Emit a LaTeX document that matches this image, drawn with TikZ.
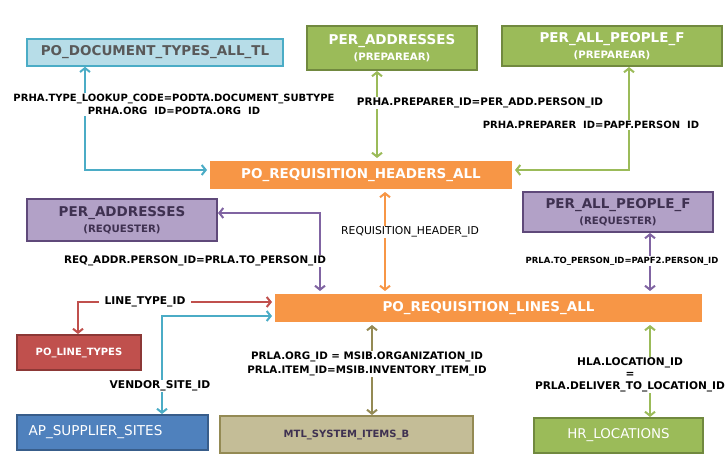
\documentclass[tikz,border=0pt]{standalone}
\usepackage{fontspec}
\setmainfont{DejaVu Sans}
\usetikzlibrary{arrows.meta,shadows}
\definecolor{orng}{HTML}{F79646}
\definecolor{ltblue}{HTML}{B7DDE8}
\definecolor{aqua}{HTML}{4BACC6}
\definecolor{grn}{HTML}{9BBB59}
\definecolor{grnd}{HTML}{71893F}
\definecolor{purp}{HTML}{B2A1C7}
\definecolor{purpd}{HTML}{5F497A}
\definecolor{purpl}{HTML}{8064A2}
\definecolor{purpt}{HTML}{3F3151}
\definecolor{red1}{HTML}{C0504D}
\definecolor{red1d}{HTML}{8C3836}
\definecolor{blu}{HTML}{4F81BD}
\definecolor{blud}{HTML}{385D8A}
\definecolor{tan1}{HTML}{C4BD97}
\definecolor{tand}{HTML}{948A54}
\begin{document}
\begin{tikzpicture}[x=1pt,y=-1pt,
  box/.style={rectangle, inner sep=0pt, align=center, line width=2pt},
  tfont/.style={font=\fontsize{13.5}{15.5}\selectfont\bfseries},
  orangebox/.style={box, fill=orng, draw=white, line width=3pt, text=white, tfont,
     drop shadow={shadow xshift=1.5pt, shadow yshift=-1.5pt, opacity=0.3}},
  greenbox/.style={box, fill=grn, draw=grnd, text=white, tfont},
  purplebox/.style={box, fill=purp, draw=purpd, text=purpt, tfont},
  lbl/.style={fill=white, inner sep=1pt, align=center, font=\fontsize{10.4}{13}\selectfont\bfseries},
  conn/.style={line width=2pt, {Straight Barb[length=4pt,width=10pt]}-{Straight Barb[length=4pt,width=10pt]}}
]
\useasboundingbox (0,0) rectangle (727,466);

% boxes
\node[box, fill=ltblue, draw=aqua, line width=1.5pt, text=black!65, tfont,
      minimum width=256pt, minimum height=27pt] (doc) at (155,52.5) {PO\_DOCUMENT\_TYPES\_ALL\_TL};
\node[greenbox, minimum width=170pt, minimum height=44pt] (paddr) at (392,48)
  {PER\_ADDRESSES\\{\fontsize{10.2}{11}\selectfont (PREPAREAR)}};
\node[greenbox, minimum width=220pt, minimum height=40pt] (ppeople) at (612,46)
  {PER\_ALL\_PEOPLE\_F\\{\fontsize{10.2}{11}\selectfont (PREPAREAR)}};
\node[orangebox, minimum width=305pt, minimum height=31pt] (hdr) at (361,175)
  {PO\_REQUISITION\_HEADERS\_ALL};
\node[purplebox, minimum width=190pt, minimum height=42pt] (raddr) at (122,220)
  {PER\_ADDRESSES\\{\fontsize{10.2}{11}\selectfont (REQUESTER)}};
\node[purplebox, minimum width=190pt, minimum height=40pt] (rpeople) at (618,212)
  {PER\_ALL\_PEOPLE\_F\\{\fontsize{10.2}{11}\selectfont (REQUESTER)}};
\node[orangebox, minimum width=430pt, minimum height=31pt] (lines) at (488.5,308)
  {PO\_REQUISITION\_LINES\_ALL};
\node[box, fill=red1, draw=red1d, text=white, font=\fontsize{10}{12}\selectfont\bfseries,
      minimum width=124pt, minimum height=35pt] (ltypes) at (79,352.5) {PO\_LINE\_TYPES};
\node[box, fill=blu, draw=blud, text=white, font=\fontsize{13.6}{15}\selectfont,
      minimum width=191pt, minimum height=35pt] (supp) at (112.5,432.5)
  {\makebox[168pt][l]{AP\_SUPPLIER\_SITES}};
\node[box, fill=tan1, draw=tand, text=purpt, font=\fontsize{10}{12}\selectfont\bfseries,
      minimum width=253pt, minimum height=37pt] (mtl) at (346.5,434.5) {MTL\_SYSTEM\_ITEMS\_B};
\node[box, fill=grn, draw=grnd, text=white, font=\fontsize{13.4}{15}\selectfont,
      minimum width=169pt, minimum height=35pt] (hrloc) at (618.5,435.5) {HR\_LOCATIONS};

% bend coordinates
\coordinate (b1) at (85,170);
\coordinate (g1) at (377,0);
\coordinate (g2) at (629,170);
\coordinate (p1) at (320,213);
\coordinate (o1) at (385,0);
\coordinate (p2) at (650,0);
\coordinate (r1) at (78,302);
\coordinate (v1) at (162,316);
\coordinate (t1) at (372,0);
\coordinate (h1) at (650,0);

% connectors
\draw[conn, aqua] (doc.south -| b1) -- (b1) -- (b1 -| hdr.west);
\draw[conn, grn] (paddr.south -| g1) -- (hdr.north -| g1);
\draw[conn, grn] (ppeople.south -| g2) -- (g2) -- (g2 -| hdr.east);
\draw[conn, purpl] (p1 -| raddr.east) -- (p1) -- (p1 |- lines.north);
\draw[conn, orng] (hdr.south -| o1) -- (lines.north -| o1);
\draw[conn, purpl] (rpeople.south -| p2) -- (lines.north -| p2);
\draw[conn, red1] (r1 -| lines.west) -- (r1) -- (r1 |- ltypes.north);
\draw[conn, aqua] (v1 -| lines.west) -- (v1) -- (v1 |- supp.north);
\draw[conn, tand] (lines.south -| t1) -- (mtl.north -| t1);
\draw[conn, grn] (lines.south -| h1) -- (hrloc.north -| h1);

% labels
\node[lbl, font=\fontsize{10}{13}\selectfont\bfseries] (l1) at (174,104.5) {PRHA.TYPE\_LOOKUP\_CODE=PODTA.DOCUMENT\_SUBTYPE\\PRHA.ORG~~ID=PODTA.ORG~~ID};
\node[lbl] (l2) at (480,103) {PRHA.PREPARER\_ID=PER\_ADD.PERSON\_ID};
\node[lbl, font=\fontsize{10}{13}\selectfont\bfseries] (l3) at (591,125) {PRHA.PREPARER~~ID=PAPF.PERSON~~ID};
\node[lbl] (l4) at (195,261) {REQ\_ADDR.PERSON\_ID=PRLA.TO\_PERSON\_ID};
\node[lbl, font=\fontsize{10.8}{13}\selectfont] (l5) at (410,232) {REQUISITION\_HEADER\_ID};
\node[lbl, font=\fontsize{8.5}{10}\selectfont\bfseries] (l6) at (622,261) {PRLA.TO\_PERSON\_ID=PAPF2.PERSON\_ID};
\node[lbl, inner xsep=6pt, font=\fontsize{10.7}{13}\selectfont\bfseries] (l7) at (145,302) {LINE\_TYPE\_ID};
\node[lbl, font=\fontsize{10.7}{13}\selectfont\bfseries] (l8) at (160,386) {VENDOR\_SITE\_ID};
\node[lbl, font=\fontsize{10.3}{14}\selectfont\bfseries] (l9) at (367,364) {PRLA.ORG\_ID = MSIB.ORGANIZATION\_ID\\PRLA.ITEM\_ID=MSIB.INVENTORY\_ITEM\_ID};
\node[lbl, font=\fontsize{10.6}{12}\selectfont\bfseries] (l10) at (630,375) {HLA.LOCATION\_ID\\=\\PRLA.DELIVER\_TO\_LOCATION\_ID};
\end{tikzpicture}
\end{document}
